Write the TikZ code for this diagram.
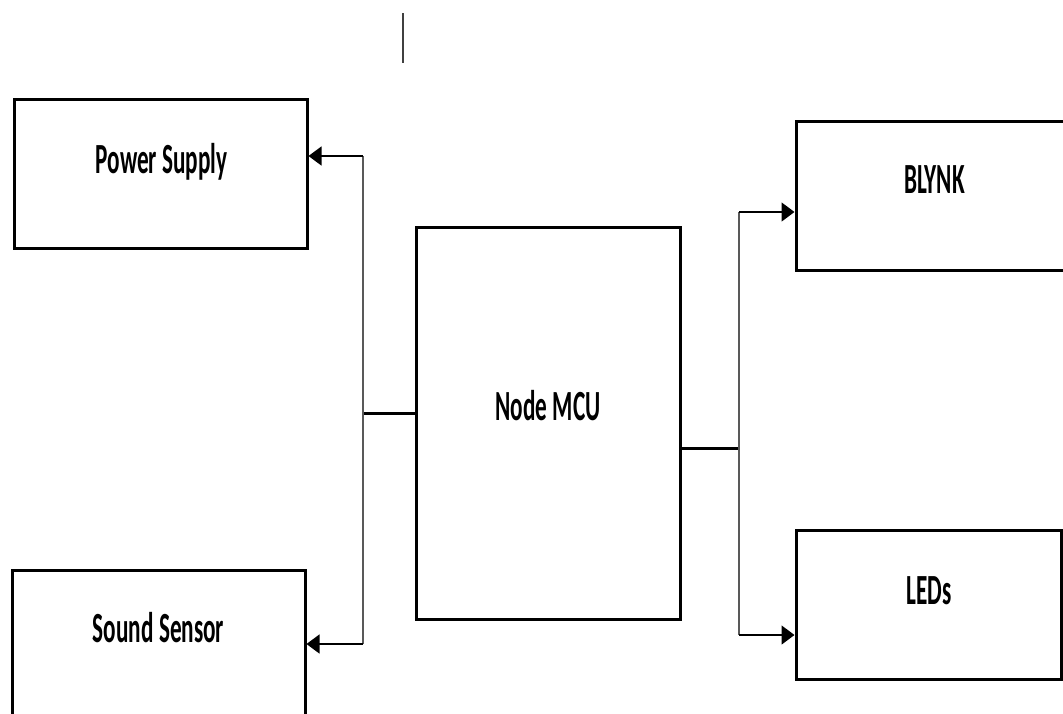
\documentclass[tikz,border=0pt]{standalone}
\usepackage{fontspec}
\setmainfont{Carlito}
\usetikzlibrary{arrows.meta}
\begin{document}
\begin{tikzpicture}[x=1pt,y=-1pt,
  blk/.style={draw=black,line width=3pt,rectangle,inner sep=0pt},
  lbl/.style={anchor=base,inner sep=0pt,font=\fontsize{43}{43}\selectfont\bfseries},
  stub/.style={draw=black,line width=3pt},
  vline/.style={draw=black!65,line width=1.3pt},
  arr/.style={draw=black,line width=1.4pt,-{Triangle[length=13pt,width=19pt]}}]
\clip (0,0) rectangle (1063,713);
\fill[white] (0,0) rectangle (1063,713);
% boxes
\node[blk,minimum width=293pt,minimum height=149pt] (ps) at (160.5,173.5) {};
\node[blk,minimum width=293pt,minimum height=160pt] (ss) at (158.5,650) {};
\node[blk,minimum width=264pt,minimum height=392pt] (mcu) at (548,423) {};
\node[blk,minimum width=274pt,minimum height=149pt] (bl) at (933,195.5) {};
\node[blk,minimum width=265pt,minimum height=149pt] (led) at (928.5,604.5) {};
% labels
\node[lbl] (tps) at (161.5,173) {\scalebox{0.54}[1]{Power Supply}};
\node[lbl] (tss) at (158.5,642) {\scalebox{0.54}[1]{Sound Sensor}};
\node[lbl] (tmcu) at (548,420) {\scalebox{0.54}[1]{Node MCU}};
\node[lbl] (tbl) at (934.5,193) {\scalebox{0.54}[1]{BLYNK}};
\node[lbl] (tled) at (929,604) {\scalebox{0.54}[1]{LEDs}};
% junctions
\coordinate (jl) at (363,413);
\coordinate (jr) at (739,448);
\coordinate (psin) at (363,156);
\coordinate (ssin) at (363,644);
\coordinate (blin) at (739,212);
\coordinate (ledin) at (739,635);
% left side
\draw[stub] (mcu.west |- jl) -- (jl);
\draw[vline] (psin) -- (ssin);
\draw[arr] (psin) -- (ps.east |- psin);
\draw[arr] (ssin) -- (ss.east |- ssin);
% right side
\draw[stub] (mcu.east |- jr) -- (jr);
\draw[vline] (blin) -- (ledin);
\draw[arr] (blin) -- (bl.west |- blin);
\draw[arr] (ledin) -- (led.west |- ledin);
% small mark at top
\coordinate (mt) at (403,13);
\coordinate (mb) at (403,63);
\draw[draw=black!75,line width=2pt] (mt) -- (mb);
\end{tikzpicture}
\end{document}
